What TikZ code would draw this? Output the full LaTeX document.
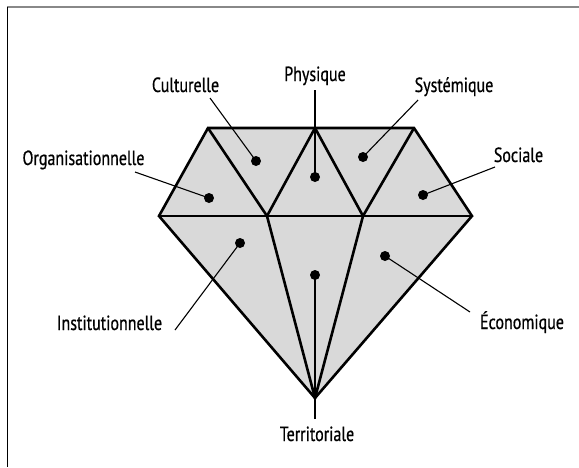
\documentclass[tikz,border=0pt]{standalone}
\usepackage{fontspec}
\setmainfont{PT Sans}[FakeStretch=0.78, FakeBold=0.6]
\usepackage{tikz}
\tikzstyle{diagramPic} = [x = 1pt, y = -1pt]
\definecolor{facetFill}{RGB}{217,217,217}
\definecolor{frameGray}{RGB}{136,136,136}
\tikzstyle{facetEdge} = [color=black, line width=2.6pt, line join=miter]
\tikzstyle{leaderLine} = [color=black, line width=1.1pt]
\tikzstyle{facetDot} = [circle, fill=black, inner sep=0pt, minimum size=10pt]
\tikzstyle{facetText} = [font=\fontsize{20.5}{24}\selectfont, anchor=base, inner sep=0pt]
\newcommand{\facetLabel}[5]{
  \node [facetDot] (#1Dot) at (#2) {};
  \coordinate (#1End) at (#3);
  \draw [leaderLine] (#1End) -- (#1Dot.center);
  \node [facetText] (#1) at (#4) {#5};
}
\newcommand{\diamondGrid}{
  \coordinate (topLeft) at (208,128); \coordinate (topMid) at (315,128); \coordinate (topRight) at (414,128);
  \coordinate (midLeft) at (159,216); \coordinate (midA) at (267,216); \coordinate (midB) at (363,216); \coordinate (midRight) at (472,216);
  \coordinate (bottom) at (315,398);
  \filldraw [facetEdge, fill=facetFill] (topLeft) -- (topRight) -- (midRight) -- (bottom) -- (midLeft) -- cycle;
  \draw [facetEdge] (midLeft) -- (midRight);
  \draw [facetEdge] (topLeft) -- (midA) -- (topMid) -- (midB) -- (topRight);
  \draw [facetEdge] (midA) -- (bottom) -- (midB);
}

\begin{document}
\begin{tikzpicture}[diagramPic]
        \useasboundingbox (0,0) rectangle (579,467);
        \draw [frameGray, line width=1.5pt] (7,7) -- (579,7);
        \draw [black, line width=1.2pt] (7.5,7) -- (7.5,467);
        \diamondGrid
        \facetLabel{culturelle}{256,161}{210,98}{185.5,92}{Culturelle}
        \facetLabel{physique}{315,177}{315,90}{315,81}{Physique}
        \facetLabel{systemique}{363,157}{418,100}{454,92}{Systémique}
        \facetLabel{organisation}{209,198}{135,172}{83.5,165}{Organisationnelle}
        \facetLabel{sociale}{423,195}{495,167}{518.5,162}{Sociale}
        \facetLabel{institution}{240,243}{175,330}{109.5,330}{Institutionnelle}
        \facetLabel{economique}{385,256}{470,312}{522,329}{Économique}
        \facetLabel{territoriale}{315,275}{315,419}{317,441}{Territoriale}
\end{tikzpicture}
\end{document}
